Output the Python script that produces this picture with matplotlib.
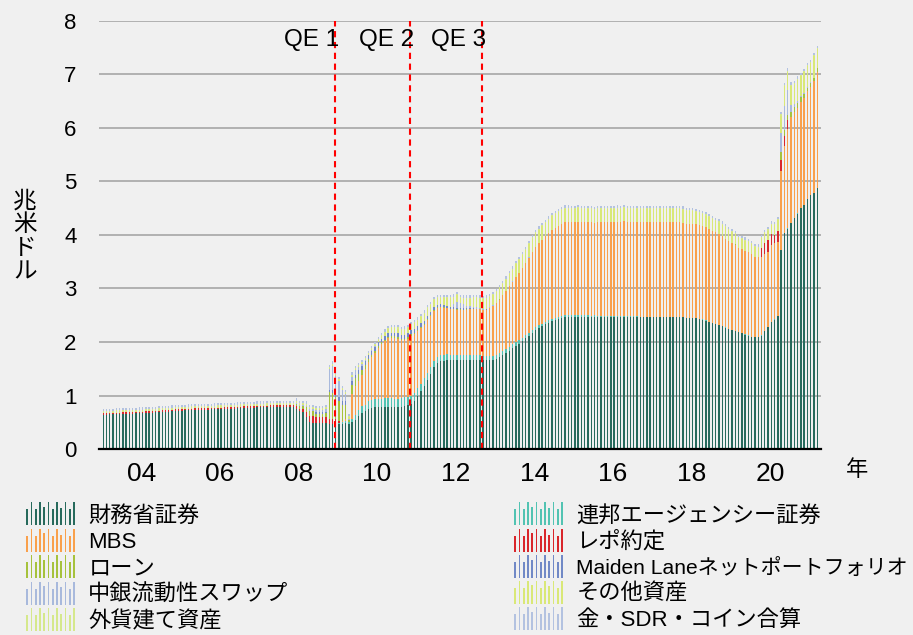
import numpy as np
import pandas as pd
import matplotlib
matplotlib.use('Agg')
import matplotlib.pyplot as plt
from matplotlib.patches import Patch, Rectangle
from matplotlib.legend_handler import HandlerBase

plt.rcParams['font.family'] = ['Liberation Sans', 'Noto Sans CJK JP']

# monthly data, Jan 2003 - Mar 2021, trillion USD
months = pd.date_range('2003-01-01', '2021-03-01', freq='MS')

treasury = [
    .640, .642, .645, .647, .650, .652, .655, .657, .660, .662, .664, .666,  # 2003
    .668, .672, .676, .680, .684, .688, .692, .696, .700, .705, .710, .717,  # 2004
    .718, .720, .722, .725, .728, .730, .733, .736, .738, .740, .742, .744,  # 2005
    .745, .748, .750, .753, .757, .760, .763, .766, .768, .770, .773, .778,  # 2006
    .779, .780, .781, .785, .790, .790, .790, .785, .780, .780, .780, .755,  # 2007
    .710, .700, .600, .500, .490, .480, .480, .480, .480, .476, .476, .476,  # 2008
    .475, .475, .480, .470, .500, .550, .620, .680, .710, .750, .765, .776,  # 2009
    .776, .776, .777, .777, .777, .777, .777, .790, .810, .820, .840, .900,  # 2010
    .990, 1.08, 1.18, 1.29, 1.40, 1.53, 1.60, 1.64, 1.65, 1.66, 1.66, 1.66,  # 2011
    1.66, 1.66, 1.66, 1.66, 1.665, 1.665, 1.665, 1.665, 1.665, 1.665, 1.66, 1.665,  # 2012
    1.69, 1.72, 1.76, 1.80, 1.84, 1.89, 1.93, 1.97, 2.02, 2.07, 2.12, 2.17,  # 2013
    2.22, 2.26, 2.29, 2.33, 2.36, 2.39, 2.41, 2.43, 2.45, 2.46, 2.46, 2.46,  # 2014
    2.460, 2.460, 2.461, 2.461, 2.461, 2.461, 2.462, 2.462, 2.462, 2.462, 2.462, 2.462,  # 2015
    2.462, 2.462, 2.462, 2.463, 2.463, 2.463, 2.463, 2.463, 2.463, 2.463, 2.463, 2.463,  # 2016
    2.465, 2.465, 2.465, 2.465, 2.465, 2.465, 2.465, 2.465, 2.465, 2.460, 2.450, 2.450,  # 2017
    2.45, 2.44, 2.43, 2.42, 2.40, 2.38, 2.36, 2.34, 2.32, 2.30, 2.27, 2.24,  # 2018
    2.22, 2.20, 2.18, 2.16, 2.14, 2.12, 2.10, 2.09, 2.09, 2.12, 2.20, 2.28,  # 2019
    2.38, 2.42, 2.48, 3.72, 4.03, 4.12, 4.23, 4.31, 4.40, 4.50, 4.56, 4.67,  # 2020
    4.75, 4.78, 4.88,  # 2021
]

agency = [0.0] * 72 + [
    .020, .030, .040, .040, .070, .090, .110, .120, .120, .140, .150, .160,  # 2009
    .160, .165, .168, .169, .167, .166, .165, .160, .155, .152, .148, .147,  # 2010
    .145, .143, .140, .135, .130, .120, .115, .112, .110, .108, .105, .103,  # 2011
    .100, .098, .095, .093, .090, .088, .085, .083, .080, .078, .077, .076,  # 2012
    .075, .074, .072, .070, .068, .066, .064, .062, .060, .058, .057, .057,  # 2013
    .057, .050, .048, .045, .045, .045, .044, .043, .042, .041, .040, .039,  # 2014
    .038, .037, .036, .036, .035, .034, .034, .033, .033, .033, .033, .033,  # 2015
    .030, .028, .026, .024, .022, .020, .018, .016, .010, .005, .003, .002,  # 2016
] + [0.002] * 51

mbs = [0.0] * 72 + [
    0.00, 0.02, 0.05, 0.00, 0.45, 0.53, 0.55, 0.58, 0.66, 0.73, 0.80, 0.86,  # 2009
    0.95, 1.02, 1.07, 1.12, 1.13, 1.13, 1.12, 1.08, 1.065, 1.09, 1.13, 1.10,  # 2010
    1.07, 1.04, 1.00, 0.98, 0.95, 0.93, 0.92, 0.90, 0.88, 0.86, 0.85, 0.85,  # 2011
    0.84, 0.84, 0.84, 0.85, 0.86, 0.86, 0.86, 0.86, 0.85, 0.86, 0.90, 0.93,  # 2012
    0.96, 1.00, 1.04, 1.08, 1.13, 1.17, 1.22, 1.26, 1.30, 1.35, 1.40, 1.45,  # 2013
    1.50, 1.54, 1.57, 1.60, 1.63, 1.66, 1.68, 1.70, 1.72, 1.74, 1.74, 1.74,  # 2014
    1.74, 1.75, 1.74, 1.74, 1.75, 1.74, 1.73, 1.74, 1.74, 1.75, 1.75, 1.75,  # 2015
    1.75, 1.76, 1.76, 1.77, 1.76, 1.76, 1.76, 1.77, 1.77, 1.77, 1.77, 1.77,  # 2016
    1.77, 1.77, 1.77, 1.77, 1.77, 1.78, 1.78, 1.77, 1.77, 1.77, 1.76, 1.76,  # 2017
    1.76, 1.76, 1.75, 1.75, 1.74, 1.73, 1.72, 1.71, 1.70, 1.68, 1.66, 1.64,  # 2018
    1.63, 1.62, 1.57, 1.57, 1.56, 1.56, 1.55, 1.50, 1.49, 1.47, 1.45, 1.40,  # 2019
    1.44, 1.42, 1.39, 1.47, 1.63, 1.86, 1.97, 1.99, 1.97, 1.99, 1.99, 2.01,  # 2020
    2.02, 2.09, 2.17,  # 2021
]

repo = [0.03] * 48 + [
    .030, .030, .030, .030, .035, .035, .035, .040, .040, .040, .040, .045,  # 2007
    .045, .050, .100, .110, .120, .120, .120, .120, .110, .090, .080, .080,  # 2008
    .030,  # 2009-01
] + [0.0] * 128 + [
    .170, .200, .220,  # 2019 Oct-Dec
    .190, .160, .200, .210, .180, .170,  # 2020 Jan-Jun
] + [0.0] * 9

loans = [0.0] * 59 + [
    .040,  # 2007-12
    .040, .050, .080, .100, .100, .060, .060, .060, .080, .500, .500, .420,  # 2008
    .380, .300, .250, .040, .180, .150, .120, .100, .080, .060, .050, .040,  # 2009
    .040, .030, .030, .030, .030, .030, .030, .030, .030, .030, .030, .030,  # 2010
    .020, .020, .020, .020, .020, .020, .010, .010, .010, .010, .010, .010,  # 2011
    .010, .010, .010, .008, .006, .005, .005, .004, .004, .003, .003, .003,  # 2012
] + [0.001] * 84 + [
    .000, .000, .010, .140, .120, .090, .100, .090, .090, .080, .080, .070,  # 2020
    .070, .060, .060,  # 2021
]

maiden_lane = [0.0] * 65 + [
    .030, .030, .030, .030, .030, .050, .070,  # 2008 Jun-Dec
    .070, .070, .070, .000, .070, .070, .070, .070, .070, .070, .070, .070,  # 2009
    .070, .070, .070, .070, .070, .070, .070, .070, .070, .070, .070, .070,  # 2010
    .065, .065, .060, .060, .055, .050, .045, .040, .040, .035, .035, .035,  # 2011
    .030, .030, .025, .020, .020, .015, .010, .008, .005, .003, .002, .002,  # 2012
] + [0.0] * 99

swaps = [0.0] * 59 + [
    .024,  # 2007-12
    .020, .020, .030, .030, .030, .030, .030, .030, .040, .400, .450, .320,  # 2008
    .300, .200, .140, .020, .080, .080, .060, .040, .020, .010, .010, .010,  # 2009
] + [0.0] * 22 + [
    .002, .060,  # 2011 Nov-Dec
    .100, .100, .080, .050, .030, .030, .020, .010, .010, .010, .010, .010,  # 2012
    .005, .005, .005, .005, .005, .005, .005, .005, .005, .005, .005, .005,  # 2013
] + [0.0] * 75 + [
    .370, .440, .470, .130, .060, .040, .030, .020, .020,  # 2020 Apr-Dec
    .010, .010, .010,  # 2021
]

other = [0.02] * 84 + [
    .04, .05, .06, .07, .08, .08, .09, .09, .10, .10, .10, .10,  # 2010
    .11, .12, .13, .14, .14, .14, .13, .12, .13, .15, .16, .11,  # 2011
    .14, .08, .10, .13, .14, .15, .17, .18, .19, .19, .19, .19,  # 2012
    .20, .20, .21, .21, .22, .22, .23, .23, .24, .24, .25, .25,  # 2013
    .25, .25, .25, .25, .25, .25, .25, .25, .25, .25, .25, .25,  # 2014
    .25, .25, .25, .25, .24, .24, .24, .24, .24, .24, .24, .24,  # 2015
    .24, .24, .24, .24, .24, .24, .24, .24, .24, .24, .24, .24,  # 2016
    .24, .24, .24, .24, .24, .24, .24, .24, .24, .24, .24, .23,  # 2017
    .23, .23, .23, .22, .22, .22, .22, .21, .21, .21, .21, .20,  # 2018
    .20, .19, .19, .19, .19, .19, .18, .18, .18, .18, .18, .18,  # 2019
    .18, .18, .20, .32, .38, .34, .36, .36, .40, .36, .39, .38,  # 2020
    .36, .40, .35,  # 2021
]

fx_assets = [0.02] * 219
gold_sdr_coin = [0.04] * 219

series = [
    ('財務省証券', treasury, '#276a5c'),
    ('連邦エージェンシー証券', agency, '#52c3b2'),
    ('MBS', mbs, '#f9a04b'),
    ('レポ約定', repo, '#d9262b'),
    ('ローン', loans, '#a6c23c'),
    ('Maiden Laneネットポートフォリオ', maiden_lane, '#7189c6'),
    ('中銀流動性スワップ', swaps, '#a8b9dc'),
    ('その他資産', other, '#d9e877'),
    ('外貨建て資産', fx_assets, '#d5e88c'),
    ('金・SDR・コイン合算', gold_sdr_coin, '#b3c2e0'),
]

tick_years = [2004, 2006, 2008, 2010, 2012, 2014, 2016, 2018, 2020]
qe_labels = ['QE 1', 'QE 2', 'QE 3']
qe_dates = ['2008-12-01', '2010-11-01', '2012-09-01']


class StripeHandler(HandlerBase):
    # draws the legend key as a row of thin bars
    heights = [0.7, 1.0, 0.7, 1.0, 0.8, 1.0, 0.7, 1.0, 0.75, 1.0, 0.7, 1.0]

    def create_artists(self, legend, orig_handle, xdescent, ydescent,
                       width, height, fontsize, trans):
        color = orig_handle.get_facecolor()
        step = width / len(self.heights)
        arts = []
        for k, h in enumerate(self.heights):
            r = Rectangle((-xdescent + k * step + step * 0.3, -ydescent - height * 0.15),
                          step * 0.4, height * 1.3 * h, facecolor=color,
                          edgecolor='none', transform=trans)
            arts.append(r)
        return arts


bg = '#f0f0f0'
fig = plt.figure(figsize=(9.13, 6.35), dpi=100, facecolor=bg)
ax = fig.add_axes([0.1084, 0.2929, 0.7908, 0.6741], facecolor=bg)

x = np.arange(len(months))
bottom = np.zeros(len(months))
for name, vals, color in series:
    vals = np.array(vals)
    ax.bar(x, vals, width=0.42, bottom=bottom, color=color, linewidth=0, zorder=2)
    bottom += vals

ax.set_xlim(-1.31, 219.15)
ax.set_ylim(0, 8)
ax.set_yticks(range(0, 9))
ax.yaxis.grid(True, color='#a6a6a6', linewidth=1.2, zorder=0)
ax.set_axisbelow(True)
ax.tick_params(axis='y', length=0, pad=16, labelsize=16)

tick_pos = [months.get_loc(pd.Timestamp(f'{y}-01-01')) - 0.4 for y in tick_years]
ax.set_xticks(tick_pos)
ax.set_xticklabels([f'{y % 100:02d}' for y in tick_years])
ax.tick_params(axis='x', length=0, pad=9, labelsize=19)

for s in ['left', 'right', 'top']:
    ax.spines[s].set_visible(False)
ax.spines['bottom'].set_color('black')
ax.spines['bottom'].set_linewidth(1.6)
ax.spines['bottom'].set_zorder(5)

for label, d in zip(qe_labels, qe_dates):
    pos = months.get_loc(pd.Timestamp(d)) - 0.3
    ax.plot([pos, pos], [0, 8], color='#ff0000', linestyle=(0, (3, 2.2)),
            linewidth=1.5, zorder=4, clip_on=False)
    ax.annotate(label, xy=(pos, 7.65), xytext=(4, 0), textcoords='offset pixels',
                ha='right', va='center', fontsize=17.5, zorder=6)

fig.text(25 / 913, 1 - 237 / 635, '兆\n米\nド\nル', ha='center', va='center',
         fontsize=17, linespacing=1.08)
fig.text(857 / 913, 1 - 470 / 635, '年', ha='center', va='center', fontsize=16)

handles = [Patch(facecolor=c, label=n) for n, _, c in series]
left = handles[0::2]
right = handles[1::2]
common = dict(handler_map={Patch: StripeHandler()}, frameon=False, fontsize=16,
              handlelength=2.3, handleheight=0.85, handletextpad=0.55,
              labelspacing=0.22, borderpad=0, borderaxespad=0, loc='upper left')
leg1 = fig.legend(handles=left, bbox_to_anchor=(25 / 913, 1 - 505 / 635), **common)
leg2 = fig.legend(handles=right, bbox_to_anchor=(513 / 913, 1 - 505 / 635), **common)
# the long Maiden Lane label is set a little narrower so it fits the width
leg2.get_texts()[2].set_fontsize(15.1)

fig.savefig('out.png', dpi=100, facecolor=bg)
